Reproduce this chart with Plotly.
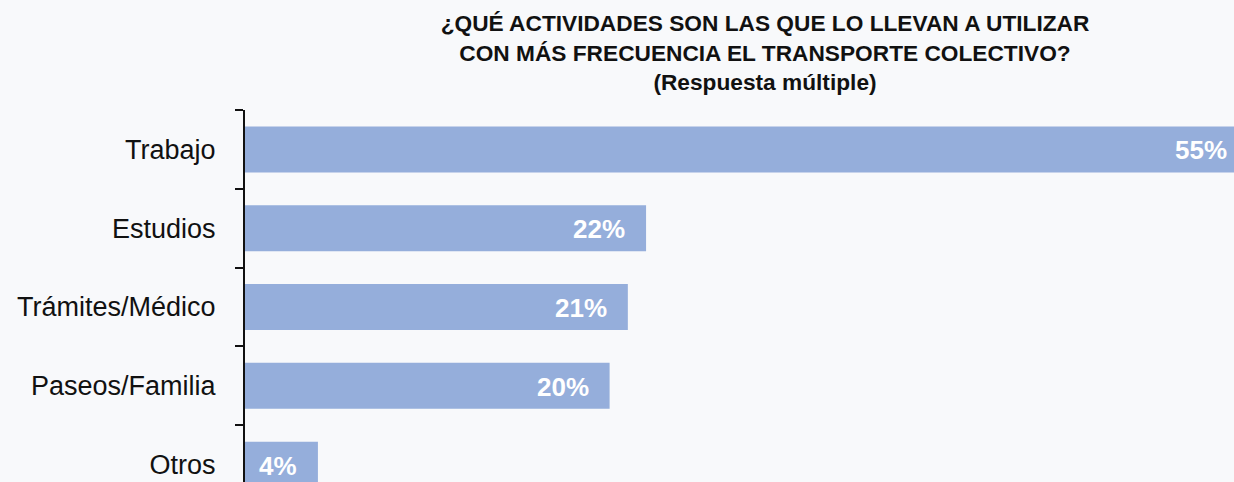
import plotly.graph_objects as go

categories = ["Trabajo", "Estudios", "Trámites/Médico", "Paseos/Familia", "Otros"]
values = [55, 22, 21, 20, 4]
labels = [f"{v}%" for v in values]

title_lines = [
    "¿QUÉ ACTIVIDADES SON LAS QUE LO LLEVAN A UTILIZAR",
    "CON MÁS FRECUENCIA EL TRANSPORTE COLECTIVO?",
    "(Respuesta múltiple)",
]

BAR_COLOR = "#95aedb"
BG = "#f8f9fb"
FONT = "Liberation Sans"
XMAX = 54.25

fig = go.Figure()
fig.add_trace(go.Bar(
    x=values,
    y=categories,
    orientation="h",
    marker=dict(color=BAR_COLOR, line=dict(width=0)),
    hoverinfo="skip",
    cliponaxis=True,
))

# value labels, placed on the x axis scale (domain fraction = value / axis max)
for cat, v, lab in zip(categories, values, labels):
    fig.add_annotation(
        x=v / XMAX, y=cat, xref="x domain", yref="y",
        text=f"<b>{lab}</b>",
        showarrow=False,
        xanchor="right", yanchor="middle",
        xshift=-19, yshift=-1,
        font=dict(family=FONT, size=26, color="white"),
    )

fig.update_layout(
    width=1234, height=482,
    margin=dict(l=245, r=0, t=110, b=0, pad=0),
    paper_bgcolor=BG, plot_bgcolor=BG,
    bargap=0.416,
    showlegend=False,
    title=dict(
        text="<br>".join(f"<b>{t}</b>" for t in title_lines),
        x=765 / 1234, xanchor="center", xref="container",
        y=0.935, yanchor="top", yref="container",
        font=dict(family=FONT, size=22.7, color="#111111"),
    ),
)

fig.update_xaxes(
    range=[0, XMAX],
    visible=False,
    showgrid=False, zeroline=False,
)
fig.update_yaxes(
    type="category",
    categoryorder="array", categoryarray=categories,
    range=[4.22, -0.5],
    showline=True, linecolor="#111111", linewidth=2,
    ticks="outside", ticklen=8, tickwidth=1.5, tickcolor="#111111",
    tickson="boundaries",
    ticklabelstandoff=22,
    showgrid=False, zeroline=False,
    tickfont=dict(family=FONT, size=27, color="#111111"),
)

fig.write_html(
    "out.html",
    config={"displayModeBar": False},
    post_script="document.body.style.margin='0';document.body.style.background='%s';" % BG,
)
